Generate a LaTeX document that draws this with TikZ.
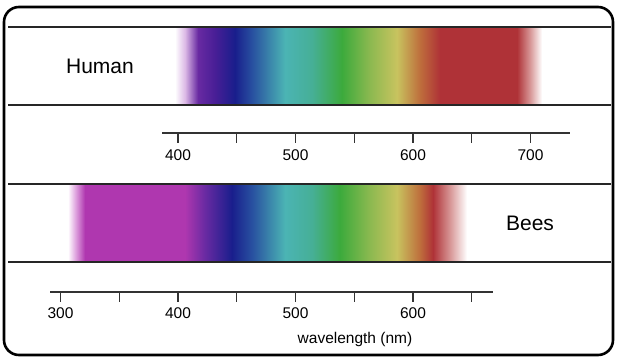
\documentclass[tikz,border=0pt]{standalone}
\usepackage{fontspec}
\setmainfont{Liberation Sans}
\definecolor{lavender}{RGB}{220,185,230}
\definecolor{lightmag}{RGB}{225,170,225}
\definecolor{magentaA}{RGB}{175,55,175}
\definecolor{purpleA}{RGB}{105,42,162}
\definecolor{indigoA}{RGB}{72,30,150}
\definecolor{darkblue}{RGB}{25,30,140}
\definecolor{blueA}{RGB}{40,80,160}
\definecolor{tealA}{RGB}{75,180,180}
\definecolor{tealgreen}{RGB}{70,175,150}
\definecolor{greenA}{RGB}{60,170,60}
\definecolor{ygreen}{RGB}{140,185,80}
\definecolor{yellowA}{RGB}{200,195,95}
\definecolor{orangeA}{RGB}{190,110,60}
\definecolor{redA}{RGB}{175,50,55}
\definecolor{pinkfade}{RGB}{215,150,150}
% stops: 25bp + x/20 for a box from x=0 to x=1000
\pgfdeclarehorizontalshading{humanspec}{100bp}{color(0bp)=(white); color(33.75bp)=(white);
  color(34.25bp)=(lavender); color(34.9bp)=(purpleA); color(35.75bp)=(indigoA);
  color(36.75bp)=(darkblue); color(37.6bp)=(blueA); color(39.25bp)=(tealA);
  color(40.6bp)=(tealgreen); color(42.1bp)=(greenA); color(43.5bp)=(ygreen);
  color(44.85bp)=(yellowA); color(46bp)=(orangeA); color(47bp)=(redA);
  color(50.85bp)=(redA); color(51.5bp)=(pinkfade); color(52.1bp)=(white); color(100bp)=(white)}
\pgfdeclarehorizontalshading{beesspec}{100bp}{color(0bp)=(white); color(28.4bp)=(white);
  color(28.75bp)=(lightmag); color(29.25bp)=(magentaA); color(34.25bp)=(magentaA);
  color(35.25bp)=(purpleA); color(36.6bp)=(darkblue); color(37.6bp)=(blueA);
  color(39.25bp)=(tealA); color(40.6bp)=(tealgreen); color(42bp)=(greenA);
  color(43.5bp)=(ygreen); color(44.85bp)=(yellowA); color(46bp)=(orangeA);
  color(46.65bp)=(redA); color(47.5bp)=(pinkfade); color(48.35bp)=(white); color(100bp)=(white)}

\begin{document}
\begin{tikzpicture}[x=1pt,y=-1pt,
    bandline/.style={line width=1.4pt, black!85},
    axisline/.style={line width=1.1pt, black!80},
    lbl/.style={font=\fontsize{21}{24}\selectfont},
    num/.style={font=\fontsize{15.5}{18}\selectfont, inner sep=0pt}]
    \useasboundingbox (0,0) rectangle (619,363);

    % spectra
    \begin{scope}
        \clip (175,27) rectangle (542,105);
        \shade[shading=humanspec] (0,27) rectangle (1000,105);
    \end{scope}
    \begin{scope}
        \clip (65,184) rectangle (470,262);
        \shade[shading=beesspec] (0,184) rectangle (1000,262);
    \end{scope}

    % band edges
    \foreach \y in {27,105,184,262}
        \draw[bandline] (8,\y) -- (611,\y);

    \node[lbl] (human) at (100,66) {Human};
    \node[lbl] (bees) at (530,223) {Bees};

    % human scale
    \coordinate (hl) at (162,133);
    \coordinate (hr) at (570,133);
    \draw[axisline] (hl) -- (hr);
    \foreach \w in {400,450,...,700} {
        \pgfmathsetmacro\tx{178+(\w-400)*1.175}
        \draw[axisline] (\tx,133) -- (\tx,143);
    }
    \foreach \w in {400,500,600,700} {
        \pgfmathsetmacro\tx{178+(\w-400)*1.175}
        \node[num] (h\w) at (\tx,155) {\w};
    }

    % bees scale
    \coordinate (bl) at (50,292);
    \coordinate (br) at (493,292);
    \draw[axisline] (bl) -- (br);
    \foreach \w in {300,350,...,650} {
        \pgfmathsetmacro\tx{178+(\w-400)*1.175}
        \draw[axisline] (\tx,292) -- (\tx,302);
    }
    \foreach \w in {300,400,500,600} {
        \pgfmathsetmacro\tx{178+(\w-400)*1.175}
        \node[num] (b\w) at (\tx,313) {\w};
    }
    \node[num] (unit) at (355,339) {wavelength (nm)};

    \draw[line width=2.6pt, rounded corners=15pt] (4,7) rectangle (613,355);
\end{tikzpicture}
\end{document}
